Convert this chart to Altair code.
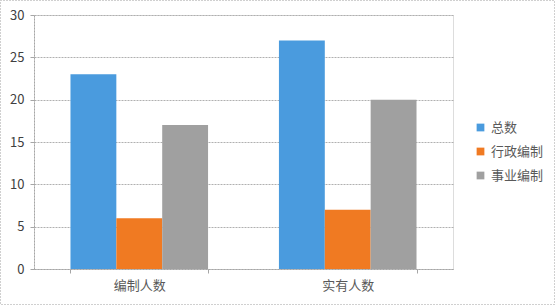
import altair as alt
import pandas as pd

categories = ["编制人数", "实有人数"]
series = ["总数", "行政编制", "事业编制"]
values = {
    "总数": [23, 27],
    "行政编制": [6, 7],
    "事业编制": [17, 20],
}
colors = ["#4A9BDE", "#F07A22", "#A0A0A0"]

rows = []
for s in series:
    for c, v in zip(categories, values[s]):
        rows.append({"类别": c, "系列": s, "人数": v})
df = pd.DataFrame(rows)

font = "Noto Sans CJK SC"

bars = alt.Chart(df).mark_bar().encode(
    x=alt.X("类别:N", sort=categories, title=None,
            scale=alt.Scale(paddingInner=0.34, paddingOuter=0.175),
            axis=alt.Axis(labelAngle=0, tickBand="extent", domainColor="#A6A6A6",
                          domainDash=[2, 1], tickColor="#A6A6A6", tickSize=4,
                          labelColor="#595959", labelFontSize=13, labelFont=font,
                          labelPadding=6)),
    xOffset=alt.XOffset("系列:N", sort=series, scale=alt.Scale(paddingInner=0, paddingOuter=0)),
    y=alt.Y("人数:Q", title=None, scale=alt.Scale(domain=[0, 30]),
            axis=alt.Axis(values=[0, 5, 10, 15, 20, 25, 30], grid=True,
                          gridColor="#B0B0B0", gridDash=[2, 1],
                          domainColor="#A6A6A6", domainDash=[2, 1],
                          tickColor="#A6A6A6", tickSize=4,
                          labelColor="#404040", labelFontSize=13, labelFont=font,
                          labelPadding=6)),
    color=alt.Color("系列:N", sort=series,
                    scale=alt.Scale(domain=series, range=colors),
                    legend=alt.Legend(title=None, orient="none", legendX=440, legendY=106,
                                      symbolType="square", symbolSize=60,
                                      labelFont=font, labelFontSize=13,
                                      labelColor="#595959", rowPadding=10,
                                      symbolStrokeWidth=0)),
)

border = alt.Chart(pd.DataFrame({"a": [0]})).mark_rect(
    fill=None, stroke="#A0A0A0", strokeDash=[1, 2], strokeWidth=1
).encode(x=alt.value(-33.5), x2=alt.value(520.5), y=alt.value(-14.5), y2=alt.value(289.5))

chart = alt.layer(border, bars).properties(
    width=419, height=254,
    padding={"left": 34, "top": 15, "right": 102, "bottom": 36},
    autosize=alt.AutoSizeParams(type="none"),
).configure_view(stroke=None).configure(background="white")

chart.save("out.html", embed_options={"renderer": "svg", "actions": False})
